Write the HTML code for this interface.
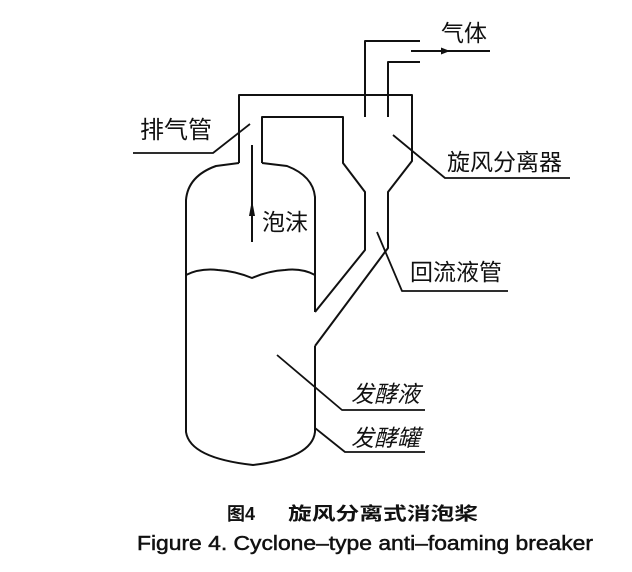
<!DOCTYPE html>
<html><head><meta charset="utf-8"><style>
html,body{margin:0;padding:0;background:#fff;}
svg{display:block;}
text{font-family:"Liberation Sans","Noto Sans CJK SC",sans-serif;fill:#111;}
</style></head><body>
<svg width="632" height="572" viewBox="0 0 632 572" xmlns="http://www.w3.org/2000/svg">
<g fill="none" stroke="#111" stroke-width="2" stroke-linejoin="round">
<path d="M239,163 L216,166 Q188,176 186,200 L186,432 Q190,458 253,465 Q312,458 315,432 L315,346"/>
<path d="M262,163 L287,166 Q313,176 315,197 L315,312"/>
<path d="M239,163 L239,95 L412,95 L412,161 L388,192 L388,248 L315,346"/>
<path d="M262,163 L262,117 L343,117 L343,163 L365,192 L365,250 L315,312"/>
<path d="M365,117 L365,41 L420,41"/>
<path d="M388,117 L388,62 L420,62"/>
<path d="M411,51 L490,51"/>
<path d="M252,145 L252,242"/>
<path d="M186,275 Q200,268 218,270 Q235,271 252,278 Q268,271 285,270 Q302,268 315,275"/>
<path d="M133,153 L213,153 L250,124" stroke-width="1.8"/>
<path d="M393,135 L445,178 L570,178" stroke-width="1.8"/>
<path d="M377,232 L402,291 L508,291" stroke-width="1.8"/>
<path d="M277,355 L342,410 L425,410" stroke-width="1.8"/>
<path d="M315,428 L345,452 L425,452" stroke-width="1.8"/>
</g>
<polygon points="450,51 441,47.5 441,54.5" fill="#111"/>
<polygon points="252,200 249,216 255,216" fill="#111"/>
<g font-size="23">
<text x="441" y="41">气体</text>
<text x="140" y="138" font-size="24">排气管</text>
<text x="447" y="170">旋风分离器</text>
<text x="262" y="230">泡沫</text>
<text x="410" y="280">回流液管</text>
<text x="351" y="402" font-style="italic">发酵液</text>
<text x="351" y="446" font-style="italic">发酵罐</text>
</g>
<text x="227" y="520" font-size="18" font-weight="bold">图4</text>
<text x="288" y="520" font-size="18" font-weight="bold" textLength="190" lengthAdjust="spacingAndGlyphs">旋风分离式消泡桨</text>
<text x="137" y="550" font-size="20" stroke="#111" stroke-width="0.5" textLength="456" lengthAdjust="spacingAndGlyphs">Figure 4. Cyclone–type anti–foaming breaker</text>
</svg>
</body></html>
